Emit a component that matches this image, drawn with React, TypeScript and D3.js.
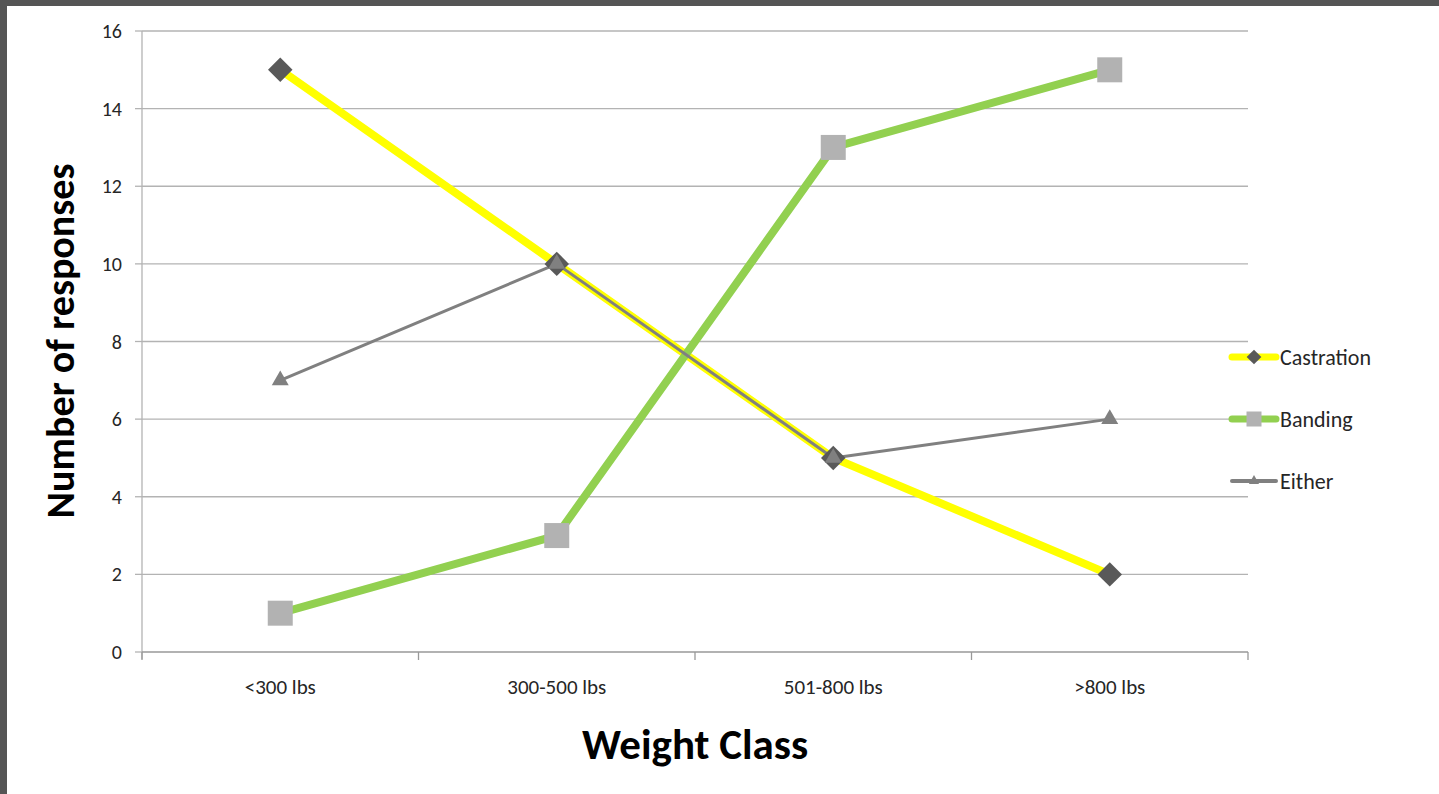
import * as d3 from "d3";

const categories = ["<300 lbs", "300-500 lbs", "501-800 lbs", ">800 lbs"];
const castration = [15, 10, 5, 2];
const banding = [1, 3, 13, 15];
const either = [7, 10, 5, 6];
const yTicks = [0, 2, 4, 6, 8, 10, 12, 14, 16];

const W = 1439;
const H = 794;
const left = 142;
const right = 1248;
const top = 31;
const bottom = 652;
const font = "Carlito, 'Open Sans', 'Liberation Sans', sans-serif";

export default function App() {
  const x = d3.scaleBand<string>().domain(categories).range([left, right]);
  const y = d3.scaleLinear().domain([0, 16]).range([bottom, top]);
  const cx = (c: string) => (x(c) ?? 0) + x.bandwidth() / 2;
  const line = d3
    .line<number>()
    .x((_, i) => cx(categories[i]))
    .y((d) => y(d));

  const diamond = d3.symbol(d3.symbolSquare, 300)();
  const tri = d3.symbol(d3.symbolTriangle, 125)();

  const series = [
    { name: "Castration", data: castration, color: "#ffff00", width: 8 },
    { name: "Banding", data: banding, color: "#92d050", width: 8 },
    { name: "Either", data: either, color: "#808080", width: 3 },
  ];

  const marker = (name: string, px: number, py: number, k: string, scale = 1) => {
    if (name === "Castration")
      return <path key={k} d={diamond} transform={`translate(${px},${py}) rotate(45) scale(${scale})`} fill="#595959" />;
    if (name === "Banding")
      return <rect key={k} x={px - 12.5 * scale} y={py - 12.5 * scale} width={25 * scale} height={25 * scale} fill="#b2b2b2" />;
    return <path key={k} d={tri} transform={`translate(${px},${py}) scale(${scale})`} fill="#808080" />;
  };

  const bounds = [...categories.map((c) => x(c) ?? 0), right];

  return (
    <svg width={W} height={H} style={{ position: "absolute", left: 0, top: 0, display: "block" }}>
      <rect width={W} height={H} fill="#ffffff" />
      <rect width={W} height={6} fill="#555555" />
      <rect width={7} height={H} fill="#555555" />
      {yTicks.map((t) => (
        <g key={t}>
          {t > 0 && <line x1={left} x2={right} y1={y(t)} y2={y(t)} stroke="#b3b3b3" strokeWidth={1.3} />}
          <line x1={left - 7} x2={left} y1={y(t)} y2={y(t)} stroke="#b3b3b3" strokeWidth={1.3} />
          <text x={left - 20} y={y(t)} dy="0.35em" textAnchor="end" fontFamily={font} fontSize={20} fill="#262626">
            {t}
          </text>
        </g>
      ))}
      <line x1={left} x2={left} y1={top} y2={bottom + 7} stroke="#b3b3b3" strokeWidth={1.3} />
      <line x1={left} x2={right} y1={bottom} y2={bottom} stroke="#999999" strokeWidth={1.3} />
      {bounds.map((b, i) => (
        <line key={i} x1={b} x2={b} y1={bottom} y2={bottom + 8} stroke="#999999" strokeWidth={1.3} />
      ))}
      {categories.map((c) => (
        <text key={c} x={cx(c)} y={694} textAnchor="middle" fontFamily={font} fontSize={21} fill="#262626">
          {c}
        </text>
      ))}
      <text
        transform={`translate(74,341) rotate(-90)`}
        textAnchor="middle"
        fontFamily={font}
        fontWeight="bold"
        fontSize={40}
        fill="#000"
      >
        Number of responses
      </text>
      <text x={695} y={759} textAnchor="middle" fontFamily={font} fontWeight="bold" fontSize={43} fill="#000">
        Weight Class
      </text>
      {series.map((s) => (
        <path
          key={s.name}
          d={line(s.data) ?? ""}
          fill="none"
          stroke={s.color}
          strokeWidth={s.width}
          strokeLinejoin="round"
        />
      ))}
      {series.map((s) => s.data.map((d, i) => marker(s.name, cx(categories[i]), y(d), `${s.name}${i}`)))}
      {series.map((s, i) => {
        const ly = 357 + i * 62;
        return (
          <g key={s.name}>
            <line x1={1232} x2={1276} y1={ly} y2={ly} stroke={s.color} strokeWidth={s.width === 8 ? 7 : 4} strokeLinecap="round" />
            {marker(s.name, 1254, ly, "lg" + i, 0.6)}
            <text x={1280} y={ly} dy="0.35em" fontFamily={font} fontSize={22} fill="#262626">
              {s.name}
            </text>
          </g>
        );
      })}
    </svg>
  );
}
